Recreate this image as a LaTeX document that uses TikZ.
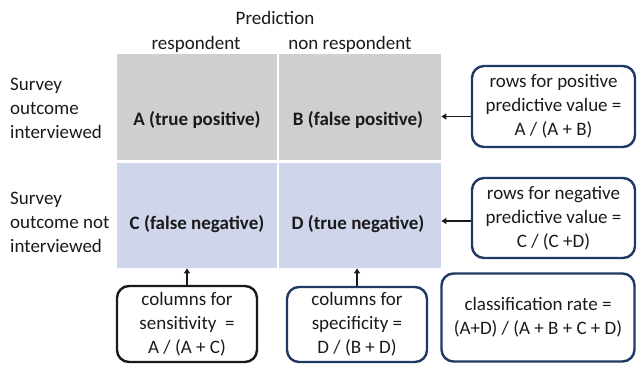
\documentclass[tikz,border=0pt]{standalone}
\usepackage{fontspec}
\setmainfont{Carlito}
\usetikzlibrary{arrows.meta}
\definecolor{cellgray}{HTML}{D0CECE}
\definecolor{cellblue}{HTML}{CFD5EA}
\definecolor{navy}{HTML}{1F3864}
\definecolor{ink}{HTML}{1A1A1A}
\begin{document}
\begin{tikzpicture}[x=1pt,y=-1pt,
  font=\fontsize{19}{24}\selectfont, text=ink,
  cell/.style={draw=none, inner sep=0pt, anchor=north west},
  celltext/.style={font=\fontsize{19}{24}\selectfont\bfseries, inner sep=0pt},
  plain/.style={inner sep=0pt},
  infobox/.style={draw=navy, line width=2.4pt, rounded corners=12pt, align=center, inner sep=0pt},
  conn/.style={draw=ink, line width=1.8pt, -{Triangle[length=5pt,width=6pt]}}]
\useasboundingbox (0,0) rectangle (639,367);

% cells
\node[cell, fill=cellgray, minimum width=160pt, minimum height=106pt] (A) at (117,54) {};
\node[cell, fill=cellgray, minimum width=162pt, minimum height=106pt] (B) at (279,54) {};
\node[cell, fill=cellblue, minimum width=160pt, minimum height=105pt] (C) at (117,163) {};
\node[cell, fill=cellblue, minimum width=162pt, minimum height=105pt] (D) at (279,163) {};

\node[celltext] (At) at (197,120) {A (true positive)};
\node[celltext] (Bt) at (358,120) {B (false positive)};
\node[celltext] (Ct) at (197,224) {C (false negative)};
\node[celltext] (Dt) at (358,224) {D (true negative)};

% headers
\node[plain] (pred) at (275,18) {Prediction};
\node[plain] (resp) at (196,44) {respondent};
\node[plain] (nresp) at (350,44) {non respondent};

% row labels
\node[plain, align=left, anchor=west] (row1) at (10,108) {Survey\\outcome\\interviewed};
\node[plain, align=left, anchor=west] (row2) at (10,222) {Survey\\outcome not\\interviewed};

% info boxes
\node[infobox, minimum width=163pt, minimum height=81pt] (R1) at (553.5,106.5)
  {rows for positive\\predictive value =\\A / (A + B)};
\node[infobox, minimum width=163pt, minimum height=80pt] (R2) at (553.5,218)
  {rows for negative\\predictive value =\\C / (C +D)};
\node[infobox, draw=ink, minimum width=140pt, minimum height=76pt] (B1) at (187,324)
  {columns for\\sensitivity\ \ =\\A / (A + C)};
\node[infobox, minimum width=140pt, minimum height=75pt] (B2) at (357,324.5)
  {columns for\\specificity =\\D / (B + D)};
\node[infobox, minimum width=193pt, minimum height=88pt] (B3) at (538,317.5)
  {classification rate =\\(A+D) / (A + B + C + D)};

% connectors
\coordinate (r1s) at ([yshift=-10pt]R1.west);
\coordinate (r2s) at ([yshift=-3pt]R2.west);
\draw[conn] (r1s) -- (B.east |- r1s);
\draw[conn] (r2s) -- (D.east |- r2s);
\draw[conn] (B1.north) -- (B1.north |- C.south);
\draw[conn] (B2.north) -- (B2.north |- D.south);
\end{tikzpicture}
\end{document}
